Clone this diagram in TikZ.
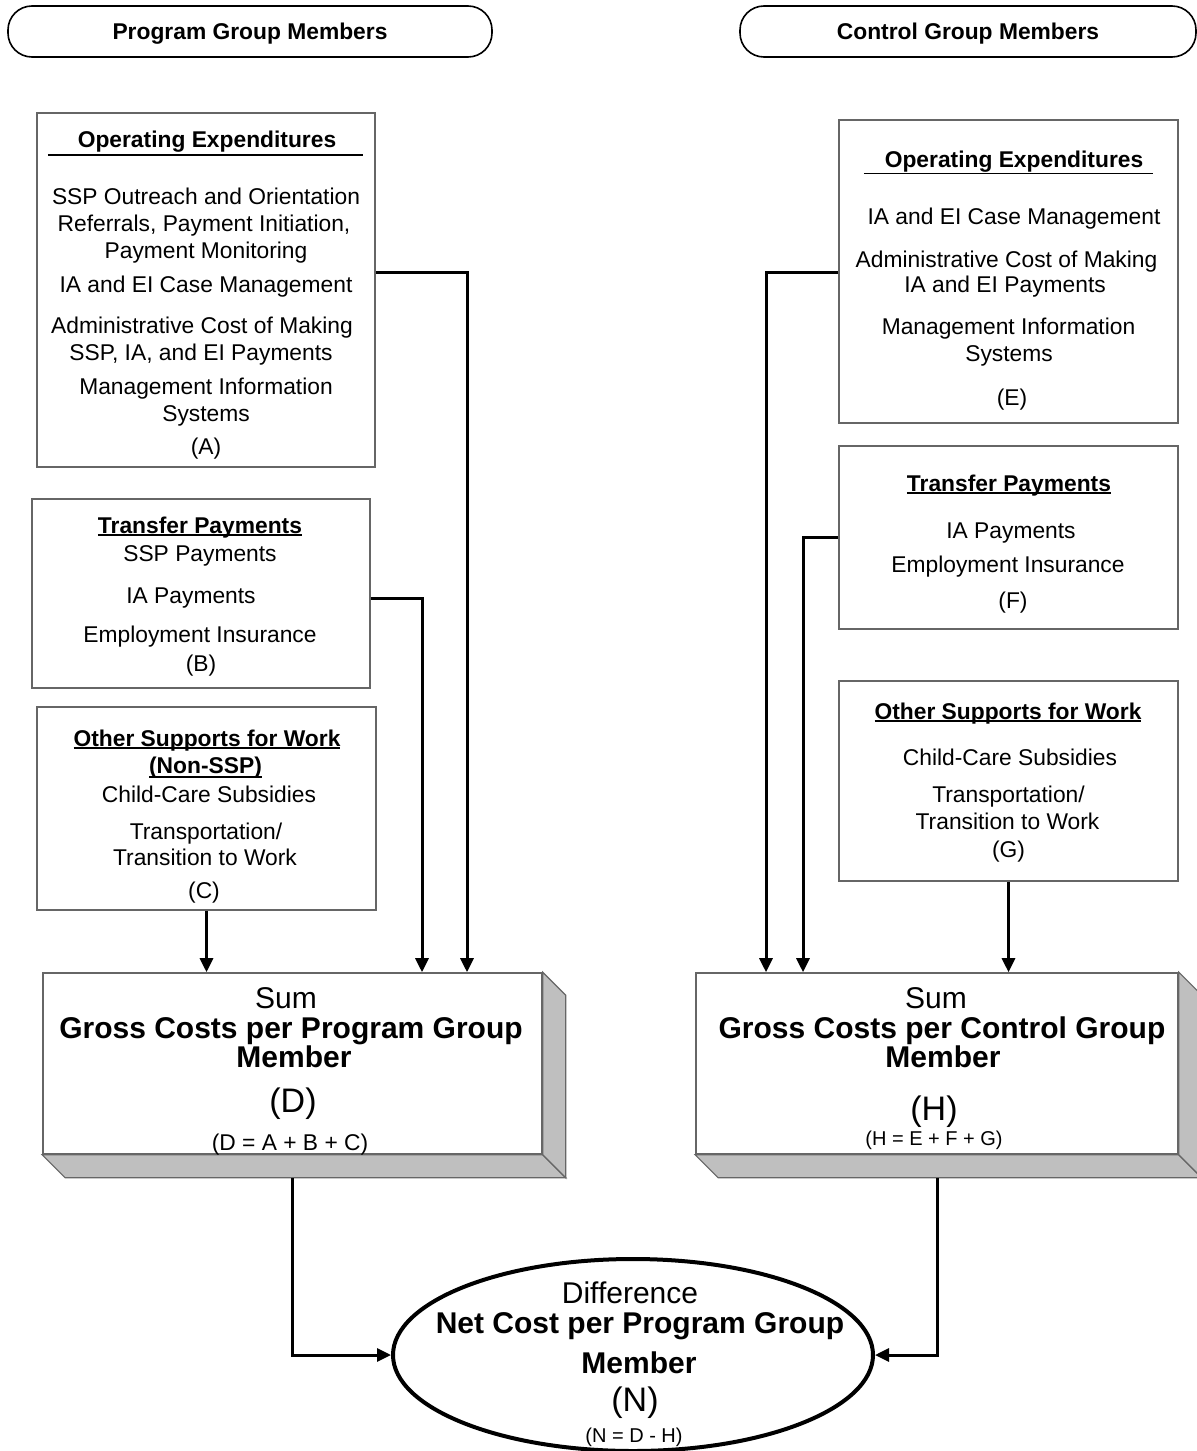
\documentclass[tikz,border=0pt]{standalone}
\usepackage{fontspec}
\setmainfont{Liberation Sans}
\usetikzlibrary{arrows.meta,shapes.geometric,calc}
\newcommand\myul[2][-1.2pt]{\setbox0\hbox{#2}\rlap{\rule[#1]{\wd0}{0.9pt}}\box0}
\begin{document}
\begin{tikzpicture}[x=0.5pt,y=-0.5pt,
  box/.style={draw=black!60, line width=0.8pt, fill=white, inner sep=0pt},
  pill/.style={draw=black, line width=0.8pt, rounded corners=12pt, minimum height=25.5pt},
  t/.style={inner sep=0pt, font=\fontsize{11.4}{13.5}\selectfont, text height=8.2pt, text depth=0pt},
  tb/.style={t, font=\bfseries\fontsize{11.4}{13.5}\selectfont},
  bg/.style={inner sep=0pt, font=\fontsize{15}{18}\selectfont, text height=10.7pt, text depth=0pt},
  bgb/.style={bg, font=\bfseries\fontsize{15}{18}\selectfont},
  hg/.style={inner sep=0pt, font=\fontsize{17}{20}\selectfont, text height=12.2pt, text depth=0pt},
  sm/.style={inner sep=0pt, font=\fontsize{10}{12}\selectfont, text height=7.2pt, text depth=0pt},
  fm/.style={inner sep=0pt, font=\fontsize{11.4}{13.5}\selectfont, text height=8.2pt, text depth=0pt},
  conn/.style={draw=black, line width=1.5pt},
  arr/.style={conn, -{Triangle[length=7pt,width=6.5pt]}},
  side/.style={draw=black!60, line width=0.6pt, fill=black!25},
]
\fill[white] (0,0) rectangle (1197,1451);
\useasboundingbox (0,0) rectangle (1197,1451);

% header pills
\node[pill, tb, minimum width=242pt] (P) at (250,31.5) {Program Group Members};
\node[pill, tb, minimum width=228pt] (Q) at (968,31.5) {Control Group Members};

% ---------- Program side ----------
\node[box, minimum width=169pt, minimum height=177pt] (A) at (206,290) {};
\node[tb] (A1) at (205.5,139) {\myul[-4.2pt]{\hspace*{15pt}Operating Expenditures\hspace*{13.5pt}}};
\node[t] (A2) at (206,196) {SSP Outreach and Orientation};
\node[t] (A3) at (204,223) {Referrals, Payment Initiation,};
\node[t] (A4) at (206,250) {Payment Monitoring};
\node[t] (A5) at (206,284) {IA and EI Case Management};
\node[t] (A6) at (202,325) {Administrative Cost of Making};
\node[t] (A7) at (201,352) {SSP, IA, and EI Payments};
\node[t] (A8) at (206,386) {Management Information};
\node[t] (A9) at (206,413) {Systems};
\node[t] (A10) at (206,446) {(A)};

\node[box, minimum width=169pt, minimum height=94.5pt] (B) at (201,593.5) {};
\node[tb] (B1) at (200,525) {\myul{Transfer Payments}};
\node[t] (B2) at (200,553) {SSP Payments};
\node[t] (B3) at (191,595) {IA Payments};
\node[t] (B4) at (200,634) {Employment Insurance};
\node[t] (B5) at (201,663) {(B)};

\node[box, minimum width=169.5pt, minimum height=101.5pt] (C) at (206.5,808.5) {};
\node[tb] (C1) at (207,738) {\myul{Other Supports for Work}};
\node[tb] (C2) at (205.5,765) {\myul[-2.2pt]{(Non-SSP)}};
\node[t] (C3) at (209,794) {Child-Care Subsidies};
\node[t] (C4) at (206,831) {Transportation/};
\node[t] (C5) at (205,857) {Transition to Work};
\node[t] (C6) at (204,890) {(C)};

\node[box, minimum width=249.5pt, minimum height=90.5pt] (D) at (292.5,1063.5) {};
\draw[side] (D.south west) -- ++(23,23) -- ([xshift=11.5pt,yshift=-11.5pt]D.south east) -- (D.south east) -- cycle;
\draw[side] (D.north east) -- ++(23,23) -- ([xshift=11.5pt,yshift=-11.5pt]D.south east) -- (D.south east) -- cycle;
\node[bg] (D1) at (286,998) {Sum};
\node[bgb] (D2) at (291,1028) {Gross Costs per Program Group};
\node[bgb] (D3) at (294,1057) {Member};
\node[hg] (D4) at (293,1100) {(D)};
\node[fm] (D5) at (290,1142) {(D = A + B + C)};

% ---------- Control side ----------
\node[box, minimum width=169.5pt, minimum height=151.5pt] (E) at (1008.5,271.5) {};
\node[tb] (E1) at (1008.5,159) {\myul[-3.6pt]{\hspace*{10.5pt}Operating Expenditures\hspace*{5pt}}};
\node[t] (E2) at (1014,216) {IA and EI Case Management};
\node[t] (E3) at (1006.5,259) {Administrative Cost of Making};
\node[t] (E4) at (1005,284) {IA and EI Payments};
\node[t] (E5) at (1008.5,326) {Management Information};
\node[t] (E6) at (1009,353) {Systems};
\node[t] (E7) at (1012,397) {(E)};

\node[box, minimum width=169.5pt, minimum height=91.5pt] (F) at (1008.5,537.5) {};
\node[tb] (F1) at (1009,483) {\myul{Transfer Payments}};
\node[t] (F2) at (1011,530) {IA Payments};
\node[t] (F3) at (1008,564) {Employment Insurance};
\node[t] (F4) at (1013,600) {(F)};

\node[box, minimum width=169.5pt, minimum height=100pt] (G) at (1008.5,781) {};
\node[tb] (G1) at (1008,711) {\myul{Other Supports for Work}};
\node[t] (G2) at (1010,757) {Child-Care Subsidies};
\node[t] (G3) at (1008.5,794) {Transportation/};
\node[t] (G4) at (1007.5,821) {Transition to Work};
\node[t] (G5) at (1008.5,849) {(G)};

\node[box, minimum width=241pt, minimum height=90.5pt] (H) at (937,1063.5) {};
\draw[side] (H.south west) -- ++(23,23) -- ([xshift=11.5pt,yshift=-11.5pt]H.south east) -- (H.south east) -- cycle;
\draw[side] (H.north east) -- ++(23,23) -- ([xshift=11.5pt,yshift=-11.5pt]H.south east) -- (H.south east) -- cycle;
\node[bg] (H1) at (936,998) {Sum};
\node[bgb] (H2) at (942,1028) {Gross Costs per Control Group};
\node[bgb] (H3) at (943,1057) {Member};
\node[hg] (H4) at (934,1108) {(H)};
\node[sm] (H5) at (934,1138) {(H = E + F + G)};

% ---------- Net ----------
\node[ellipse, draw=black, line width=2pt, fill=white, minimum width=240pt, minimum height=96pt, inner sep=0pt] (N) at (633,1355) {};
\node[bg] (N1) at (630,1293) {Difference};
\node[bgb] (N2) at (640,1323) {Net Cost per Program Group};
\node[bgb] (N3) at (639,1363) {Member};
\node[hg] (N4) at (635,1399) {(N)};
\node[sm] (N5) at (634,1435) {(N = D - H)};

% ---------- connectors ----------
\coordinate (ka) at (467,272);
\coordinate (kb) at (422,598);
\coordinate (ke) at (766,272);
\coordinate (kf) at (803,537);
\draw[arr] (A.east |- ka) -| (D.north -| ka);
\draw[arr] (B.east |- kb) -| (D.north -| kb);
\draw[arr] (C.south) -- (D.north -| C.south);
\draw[arr] (E.west |- ke) -| (H.north -| ke);
\draw[arr] (F.west |- kf) -| (H.north -| kf);
\draw[arr] (G.south) -- (H.north -| G.south);
\draw[arr] ([yshift=-11.5pt]D.south) |- (N.west);
\draw[arr] ([yshift=-11.5pt]H.south) |- (N.east);
\end{tikzpicture}
\end{document}
